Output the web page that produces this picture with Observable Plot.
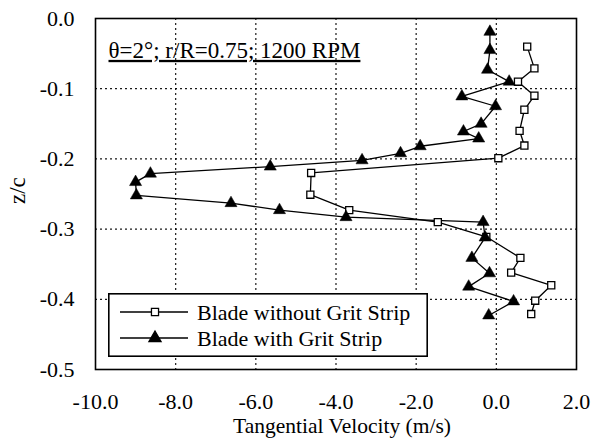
<!DOCTYPE html>
<html><head><meta charset="utf-8">
<script src="https://cdn.jsdelivr.net/npm/d3@7"></script>
<script src="https://cdn.jsdelivr.net/npm/@observablehq/plot@0.6"></script>
<style>
html,body{margin:0;padding:0;background:#fff;}
#wrap{position:relative;width:597px;height:442px;}
.ttl text{text-decoration:underline;}
#legend{position:absolute;left:108px;top:293px;}
#wrap svg text{font-family:"Liberation Serif","Times New Roman",Times,serif;}
</style></head><body><div id="wrap"></div>
<script>
const title = "θ=2°; r/R=0.75; 1200 RPM";
const xLabel = "Tangential Velocity (m/s)";
const yLabel = "z/c";
const seriesNames = ["Blade without Grit Strip", "Blade with Grit Strip"];
const xTicks = [-10, -8, -6, -4, -2, 0, 2];
const yTicks = [0, -0.1, -0.2, -0.3, -0.4, -0.5];

const zWithout = [-0.040,-0.071,-0.090,-0.110,-0.130,-0.160,-0.181,-0.199,-0.220,-0.251,-0.273,-0.290,-0.311,-0.341,-0.362,-0.380,-0.402,-0.421];
const vWithout = [0.77,0.95,0.54,0.95,0.70,0.58,0.70,0.05,-4.62,-4.64,-3.67,-1.46,-0.25,0.60,0.37,1.37,0.97,0.87];

const zWith = [-0.019,-0.045,-0.073,-0.090,-0.111,-0.125,-0.150,-0.161,-0.171,-0.182,-0.192,-0.202,-0.211,-0.221,-0.233,-0.252,-0.263,-0.273,-0.283,-0.290,-0.312,-0.341,-0.363,-0.382,-0.403,-0.423];
const vWith = [-0.16,-0.16,-0.22,0.32,-0.86,-0.02,-0.38,-0.82,-0.44,-1.90,-2.39,-3.35,-5.64,-8.63,-9.00,-8.98,-6.62,-5.41,-3.75,-0.33,-0.28,-0.61,-0.17,-0.69,0.43,-0.19];

const without = zWithout.map((z, i) => ({z, v: vWithout[i]}));
const withG = zWith.map((z, i) => ({z, v: vWith[i]}));

const font = "Liberation Serif";
const fmt = d => d.toFixed(1);

const chart = Plot.plot({
  width: 597, height: 442,
  marginLeft: 95, marginRight: 21, marginTop: 18, marginBottom: 73,
  style: {fontFamily: font, fontSize: "22px", color: "#000", background: "#fff"},
  x: {domain: [-10, 2]},
  y: {domain: [-0.5, 0]},
  marks: [
    Plot.gridX(xTicks.slice(1, -1), {stroke: "#000", strokeOpacity: 0.9, strokeWidth: 1.2, strokeDasharray: "2,3"}),
    Plot.gridY(yTicks.slice(1, -1), {stroke: "#000", strokeOpacity: 0.9, strokeWidth: 1.2, strokeDasharray: "2,3"}),
    Plot.frame({stroke: "#000", strokeWidth: 1.6}),
    Plot.axisX(xTicks, {tickSize: 0, tickPadding: 24, tickFormat: fmt, label: null, fontSize: 22}),
    Plot.axisY(yTicks, {tickSize: 0, tickPadding: 21, tickFormat: fmt, label: null, fontSize: 22}),
    Plot.line(without, {x: "v", y: "z", stroke: "#000", strokeWidth: 1.3}),
    Plot.line(withG, {x: "v", y: "z", stroke: "#000", strokeWidth: 1.3}),
    Plot.dot(without, {x: "v", y: "z", symbol: "square", r: 4, fill: "#fff", stroke: "#000", strokeWidth: 1.3}),
    Plot.dot(withG, {x: "v", y: "z", symbol: "triangle", r: 4.5, fill: "#000", stroke: "#000", strokeWidth: 0.5}),
    Plot.text([title], {text: d => d, frameAnchor: "top-left", dx: 13, dy: 32, textAnchor: "start", lineAnchor: "middle", fontSize: 23, className: "ttl"}),
    Plot.text([xLabel], {text: d => d, frameAnchor: "bottom", dx: 6, dy: 57, lineAnchor: "middle", fontSize: 21.5}),
    Plot.text([yLabel], {text: d => d, frameAnchor: "left", dx: -78, dy: 10, rotate: -90, lineAnchor: "middle", fontSize: 23})
  ]
});
const wrap = document.getElementById("wrap");
wrap.appendChild(chart);

// legend overlay
const lw = 320, lh = 64;
const leg = d3.create("svg").attr("id", "legend").attr("width", lw).attr("height", lh);
leg.append("rect").attr("x", 0.8).attr("y", 0.8).attr("width", lw - 1.6).attr("height", lh - 1.6)
  .attr("fill", "#fff").attr("stroke", "#000").attr("stroke-width", 1.6);
const rows = [
  {name: seriesNames[0], sym: d3.symbolSquare, fill: "#fff", size: Math.PI * 16},
  {name: seriesNames[1], sym: d3.symbolTriangle, fill: "#000", size: Math.PI * 20.25}
];
rows.forEach((r, i) => {
  const y = 19 + i * 26;
  leg.append("line").attr("x1", 12).attr("x2", 80).attr("y1", y).attr("y2", y).attr("stroke", "#000").attr("stroke-width", 1.3);
  leg.append("path").attr("d", d3.symbol(r.sym, r.size)()).attr("transform", `translate(47,${y})`)
    .attr("fill", r.fill).attr("stroke", "#000").attr("stroke-width", 1.3);
  leg.append("text").attr("x", 89).attr("y", y).attr("dy", "0.35em")
    .attr("font-size", 22).text(r.name);
});
wrap.appendChild(leg.node());
</script>
</body></html>
